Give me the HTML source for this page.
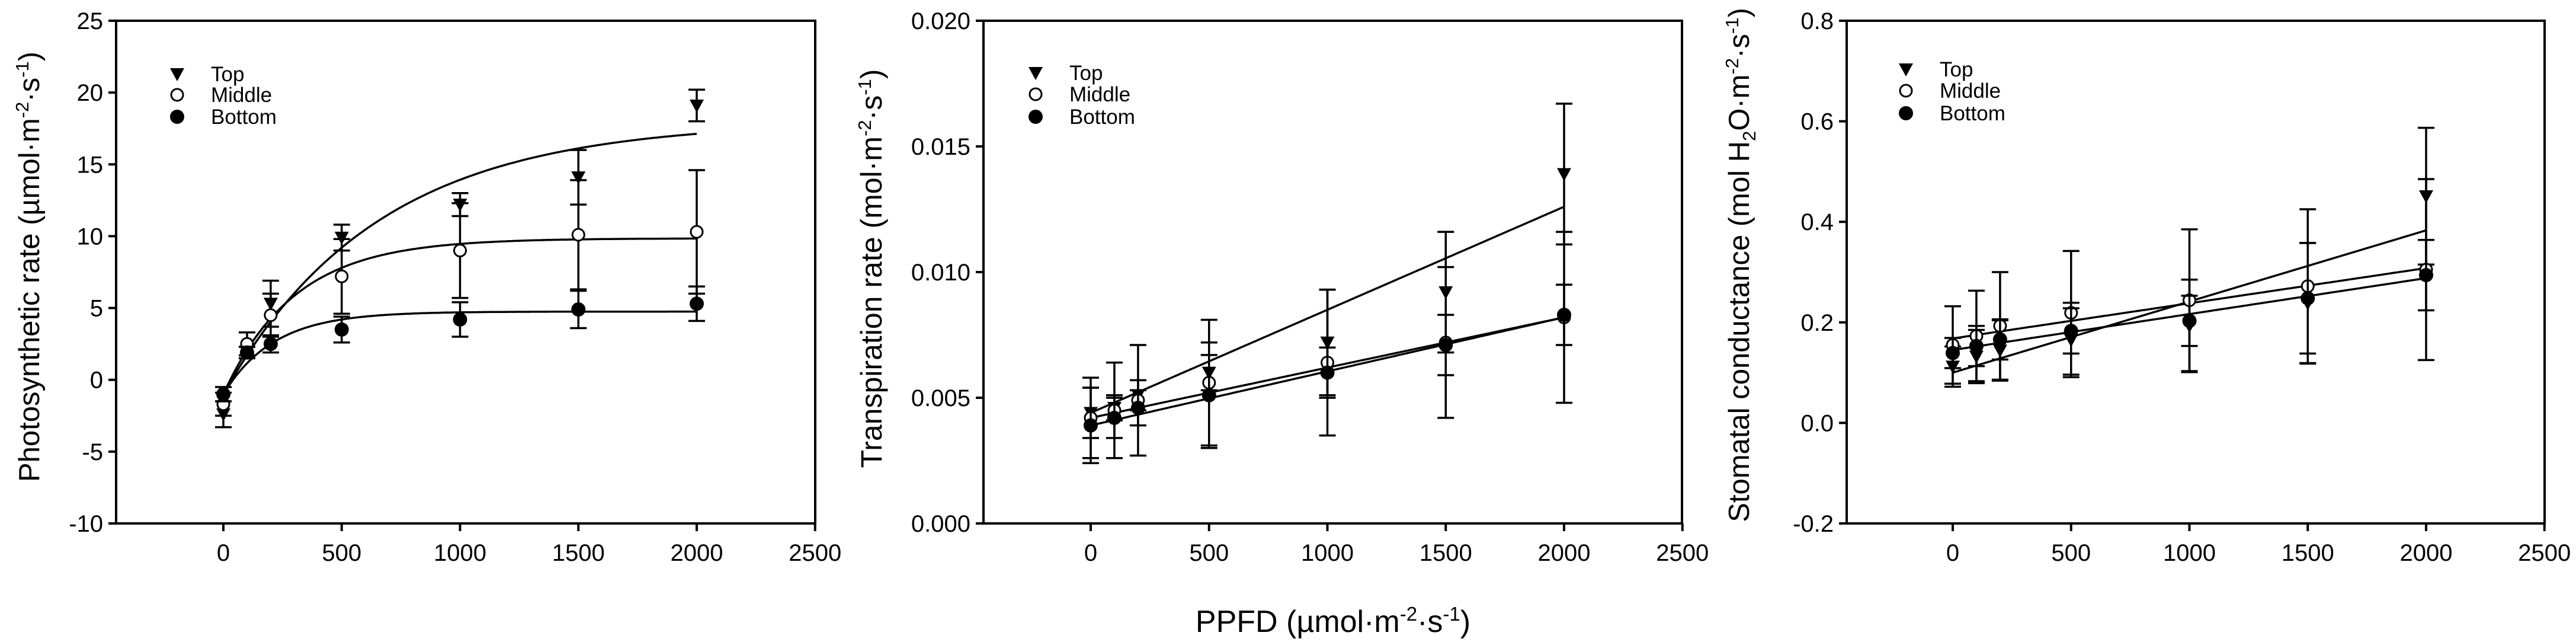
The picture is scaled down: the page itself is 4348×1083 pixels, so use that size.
<!DOCTYPE html>
<html><head><meta charset="utf-8"><style>
html,body{margin:0;padding:0;background:#fff;}
svg{display:block;font-family:"Liberation Sans",Arial,sans-serif;}
</style></head><body>
<svg id="fig" width="4348" height="1083" viewBox="0 0 4348 1083" xmlns="http://www.w3.org/2000/svg">
<rect width="4348" height="1083" fill="#fff"/>
<text x="2250" y="1066" font-size="52" text-anchor="middle">PPFD (µmol·m<tspan dy="-19" font-size="33">-2</tspan><tspan dy="19">·s</tspan><tspan dy="-19" font-size="33">-1</tspan><tspan dy="19">)</tspan></text>
</svg>
<script>
// shared x data
const xVals = [0, 100, 200, 500, 1000, 1500, 2000];
const xTicks = [0, 500, 1000, 1500, 2000, 2500];
const seriesNames = ["Top", "Middle", "Bottom"];

// Panel A: photosynthetic rate
const aTop = [-2.4, 1.9, 5.3, 9.9, 12.2, 14.1, 19.1];
const aTopErr = [0.9, 0.4, 1.6, 0.9, 0.8, 1.9, 1.1];
const aMid = [-1.7, 2.5, 4.5, 7.2, 9.0, 10.1, 10.3];
const aMidErr = [0.8, 0.8, 1.5, 2.6, 3.3, 3.8, 4.3];
const aBot = [-1.0, 1.9, 2.5, 3.5, 4.2, 4.9, 5.3];
const aBotErr = [0.5, 0.4, 0.6, 0.9, 1.2, 1.3, 1.2];
const aFitA = [19.0, 10.85, 5.75];
const aFitB = [0.00154, 0.00333, 0.00469];
const aFitC = [-1.0, -1.0, -1.0];
const aYTicks = [-10, -5, 0, 5, 10, 15, 20, 25];
const aYLabels = ["-10", "-5", "0", "5", "10", "15", "20", "25"];

// Panel B: transpiration rate
const bTop = [0.0044, 0.0046, 0.0051, 0.0060, 0.0072, 0.0092, 0.0139];
const bTopErr = [0.0010, 0.0005, 0.0006, 0.0007, 0.0021, 0.0024, 0.0028];
const bMid = [0.0042, 0.0045, 0.0049, 0.0056, 0.0064, 0.0072, 0.0082];
const bMidErr = [0.0016, 0.0019, 0.0022, 0.0025, 0.0029, 0.0030, 0.0034];
const bBot = [0.0039, 0.0042, 0.0046, 0.0051, 0.0060, 0.0071, 0.0083];
const bBotErr = [0.0015, 0.0008, 0.0007, 0.0021, 0.0010, 0.0012, 0.0012];
const bFitStart = [0.0044, 0.0042, 0.0039];
const bFitEnd = [0.0126, 0.0082, 0.0082];
const bYTicks = [0, 0.005, 0.010, 0.015, 0.020];
const bYLabels = ["0.000", "0.005", "0.010", "0.015", "0.020"];

// Panel C: stomatal conductance
const cTop = [0.112, 0.132, 0.144, 0.165, 0.193, 0.238, 0.451];
const cTopErr = [0.04, 0.053, 0.06, 0.074, 0.092, 0.12, 0.136];
const cMid = [0.155, 0.173, 0.193, 0.219, 0.244, 0.272, 0.305];
const cMidErr = [0.077, 0.09, 0.107, 0.123, 0.141, 0.153, 0.18];
const cBot = [0.139, 0.153, 0.166, 0.183, 0.203, 0.248, 0.294];
const cBotErr = [0.03, 0.04, 0.04, 0.045, 0.05, 0.11, 0.07];
const cFitStart = [0.100, 0.168, 0.145];
const cFitEnd = [0.383, 0.308, 0.288];
const cYTicks = [-0.2, 0.0, 0.2, 0.4, 0.6, 0.8];
const cYLabels = ["-0.2", "0.0", "0.2", "0.4", "0.6", "0.8"];

const NS = "http://www.w3.org/2000/svg";
const svg = document.getElementById("fig");
function mk(tag, attrs, parent) {
  const e = document.createElementNS(NS, tag);
  for (const k in attrs) e.setAttribute(k, attrs[k]);
  (parent || svg).appendChild(e);
  return e;
}

function panel(cfg) {
  const g = mk("g", {});
  
  
  const L = cfg.left, R = cfg.right, T = 35, B = 883;
  const x0 = cfg.x0;
  const sx = v => x0 + v * 0.3995;
  const sy = v => B - (v - cfg.ymin) / (cfg.ymax - cfg.ymin) * (B - T);
  const frame = mk("rect", {x: L, y: T, width: R - L, height: B - T, fill: "none", stroke: "#000", "stroke-width": 4}, g);
  
  
  cfg.yTicks.forEach((v, i) => {
    const y = sy(v);
    const t = mk("line", {x1: L - 13, x2: L, y1: y, y2: y, stroke: "#000", "stroke-width": 4}, g);
    
    
    const tx = mk("text", {x: L - 22, y: y + 14, "font-size": 40, "text-anchor": "end"}, g);
    tx.textContent = cfg.yLabels[i];
    
    
  });
  xTicks.forEach(v => {
    const x = sx(v);
    const t = mk("line", {x1: x, x2: x, y1: B, y2: B + 13, stroke: "#000", "stroke-width": 4}, g);
    
    
    const tx = mk("text", {x: x, y: 946, "font-size": 40, "text-anchor": "middle"}, g);
    tx.textContent = String(v);
    
    
  });
  const yt = mk("text", {transform: `translate(${cfg.titleX},${cfg.titleY}) rotate(-90)`, "font-size": cfg.titleSize, "text-anchor": "middle"}, g);
  yt.innerHTML = cfg.title;
  
  
  cfg.fits.forEach((fn, i) => {
    let d = "";
    for (let v = 0; v <= 2000; v += 10) d += (v ? "L" : "M") + sx(v).toFixed(1) + "," + sy(fn(v)).toFixed(1);
    const p = mk("path", {d: d, fill: "none", stroke: "#000", "stroke-width": 3.5}, g);
    
    
  });
  cfg.series.forEach((s, si) => {
    const sg = mk("g", {}, g);
    
    
    xVals.forEach((xv, i) => {
      const x = sx(xv), y = sy(s.v[i]), yh = sy(s.v[i] + s.e[i]), yl = sy(s.v[i] - s.e[i]);
      const eb = mk("path", {d: `M${x},${yh}L${x},${yl}M${x - 14},${yh}L${x + 14},${yh}M${x - 14},${yl}L${x + 14},${yl}`, stroke: "#000", "stroke-width": 3.5, fill: "none"}, sg);
      
      
      drawMarker(sg, si, x, y);
    });
  });
  seriesNames.forEach((n, i) => {
    const y = cfg.legY[i];
    drawMarker(g, i, cfg.legX, y);
    const t = mk("text", {x: cfg.legX + 57, y: y + 12, "font-size": 35}, g);
    t.textContent = n;
    
    
  });
}

function drawMarker(parent, type, x, y) {
  let m;
  if (type === 0) {
    m = mk("path", {d: `M${x - 12},${y - 10}L${x + 12},${y - 10}L${x},${y + 12}Z`, fill: "#000"}, parent);
  } else if (type === 1) {
    m = mk("circle", {cx: x, cy: y, r: 10, fill: "#fff", stroke: "#000", "stroke-width": 3}, parent);
  } else {
    m = mk("circle", {cx: x, cy: y, r: 12, fill: "#000"}, parent);
  }
  
  
}

const sup = (s) => `<tspan dy="-18" font-size="31">${s}</tspan>`;
const dn = (s) => `<tspan dy="18">${s}</tspan>`;

panel({
  name: "photosynthesis-panel", left: 196, right: 1376, x0: 377, ymin: -10, ymax: 25,
  yTicks: aYTicks, yLabels: aYLabels, titleX: 66, titleY: 450, titleSize: 49,
  title: `Photosynthetic rate (µmol·m${sup("-2")}${dn("·s")}${sup("-1")}${dn(")")}`,
  fits: [0, 1, 2].map(i => v => aFitA[i] * (1 - Math.exp(-aFitB[i] * v)) + aFitC[i]),
  series: [{v: aTop, e: aTopErr}, {v: aMid, e: aMidErr}, {v: aBot, e: aBotErr}],
  legX: 299, legY: [125, 160, 197]
});
panel({
  name: "transpiration-panel", left: 1660, right: 2839, x0: 1841, ymin: 0, ymax: 0.02,
  yTicks: bYTicks, yLabels: bYLabels, titleX: 1488, titleY: 453, titleSize: 50,
  title: `Transpiration rate (mol·m${sup("-2")}${dn("·s")}${sup("-1")}${dn(")")}`,
  fits: [0, 1, 2].map(i => v => bFitStart[i] + (bFitEnd[i] - bFitStart[i]) * v / 2000),
  series: [{v: bTop, e: bTopErr}, {v: bMid, e: bMidErr}, {v: bBot, e: bBotErr}],
  legX: 1748, legY: [123, 159, 197]
});
panel({
  name: "stomatal-conductance-panel", left: 3117, right: 4295, x0: 3296, ymin: -0.2, ymax: 0.8,
  yTicks: cYTicks, yLabels: cYLabels, titleX: 2952, titleY: 447, titleSize: 49,
  title: `Stomatal conductance (mol H<tspan dy="11" font-size="31">2</tspan><tspan dy="-11">O·m</tspan>${sup("-2")}${dn("·s")}${sup("-1")}${dn(")")}`,
  fits: [0, 1, 2].map(i => v => cFitStart[i] + (cFitEnd[i] - cFitStart[i]) * v / 2000),
  series: [{v: cTop, e: cTopErr}, {v: cMid, e: cMidErr}, {v: cBot, e: cBotErr}],
  legX: 3217, legY: [117, 153, 191]
});
</script>
</body></html>
